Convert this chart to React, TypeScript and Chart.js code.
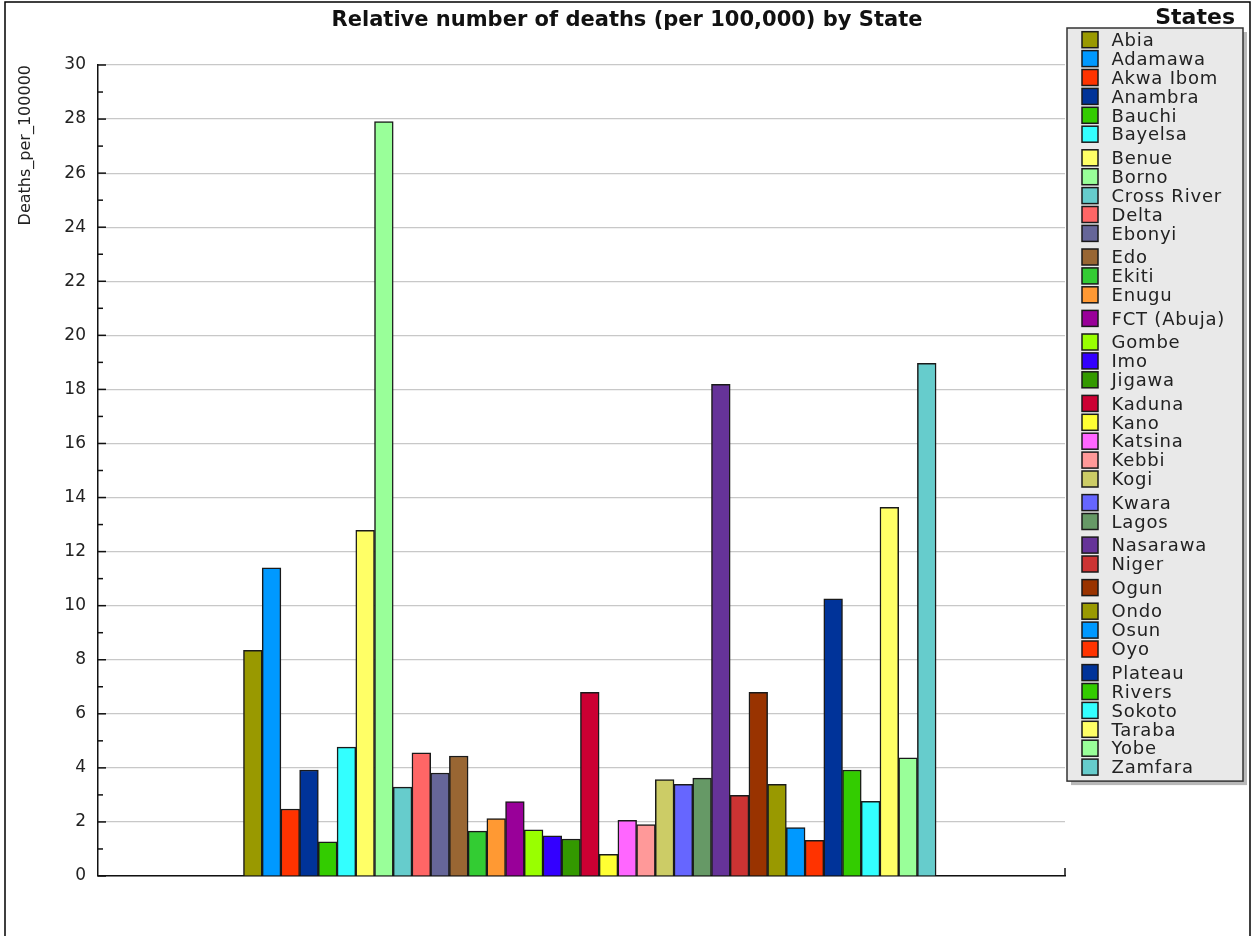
import React, { useEffect, useRef } from 'react';
import { Chart, registerables } from 'chart.js';

Chart.register(...registerables);

const chartTitle = 'Relative number of deaths (per 100,000) by State';
const legendTitle = 'States';
const yAxisTitle = 'Deaths_per_100000';
const yAxisMin = 0;
const yAxisMax = 30;
const yMinorStep = 1;
const yLabelStep = 2;

const states = [
  'Abia', 'Adamawa', 'Akwa Ibom', 'Anambra', 'Bauchi', 'Bayelsa', 'Benue', 'Borno',
  'Cross River', 'Delta', 'Ebonyi', 'Edo', 'Ekiti', 'Enugu', 'FCT (Abuja)', 'Gombe',
  'Imo', 'Jigawa', 'Kaduna', 'Kano', 'Katsina', 'Kebbi', 'Kogi', 'Kwara', 'Lagos',
  'Nasarawa', 'Niger', 'Ogun', 'Ondo', 'Osun', 'Oyo', 'Plateau', 'Rivers', 'Sokoto',
  'Taraba', 'Yobe', 'Zamfara',
];

const deathsPer100k = [
  8.35, 11.40, 2.48, 3.92, 1.26, 4.77, 12.79, 27.91,
  3.29, 4.56, 3.81, 4.44, 1.66, 2.12, 2.75, 1.71,
  1.49, 1.37, 6.79, 0.80, 2.06, 1.90, 3.57, 3.39, 3.62,
  18.19, 2.98, 6.79, 3.39, 1.79, 1.32, 10.25, 3.92, 2.76,
  13.64, 4.37, 18.96,
];

const stateColors = [
  '#999900', '#0099ff', '#ff3300', '#003399', '#33cc00', '#33ffff', '#ffff66', '#99ff99',
  '#66cccc', '#ff6666', '#666699', '#996633', '#33cc33', '#ff9933', '#990099', '#99ff00',
  '#3300ff', '#339900', '#cc0033', '#ffff33', '#ff66ff', '#ff9999', '#cccc66', '#6666ff', '#669966',
  '#663399', '#cc3333', '#993300', '#999900', '#0099ff', '#ff3300', '#003399', '#33cc00', '#33ffff',
  '#ffff66', '#99ff99', '#66cccc',
];

const FONT = '"DejaVu Sans", sans-serif';

const decorPlugin = {
  id: 'decor',
  afterDraw(chart: any) {
    const ctx: CanvasRenderingContext2D = chart.ctx;
    const { left, right, bottom } = chart.chartArea;
    const yScale = chart.scales.y;
    ctx.save();

    // inner tick marks on the y axis
    ctx.strokeStyle = '#111';
    ctx.lineWidth = 1.5;
    yScale.ticks.forEach((t: any) => {
      const py = yScale.getPixelForValue(t.value);
      const len = t.value % yLabelStep === 0 ? 8 : 5;
      ctx.beginPath();
      ctx.moveTo(left, py);
      ctx.lineTo(left + len, py);
      ctx.stroke();
    });
    // end tick on x axis
    ctx.beginPath();
    ctx.moveTo(right, bottom);
    ctx.lineTo(right, bottom - 8);
    ctx.stroke();

    // outer frame
    ctx.strokeStyle = '#000';
    ctx.lineWidth = 1.5;
    ctx.strokeRect(5, 2, chart.width - 8, chart.height + 20);

    // chart title
    ctx.fillStyle = '#111';
    ctx.font = `bold 21px ${FONT}`;
    ctx.textAlign = 'center';
    ctx.textBaseline = 'alphabetic';
    ctx.fillText(chartTitle, chart.width / 2 + 0.5, 26);

    // legend
    const datasets = chart.data.datasets;
    const boxLeft = right + 2;
    const boxWidth = 176;
    const boxTop = 28;
    ctx.font = `18px ${FONT}`;
    (ctx as any).letterSpacing = '0.8px';
    const centers: number[] = [];
    let c = boxTop + 11.7;
    datasets.forEach((ds: any) => {
      centers.push(c);
      const m = ctx.measureText(ds.label);
      c += 18.9 + (m.actualBoundingBoxDescent > 2 ? 4.7 : 0);
    });
    const boxBottom = centers[centers.length - 1] + 14;
    const boxHeight = boxBottom - boxTop;

    ctx.fillStyle = '#b8b8b8';
    ctx.fillRect(boxLeft + 4, boxTop + 4, boxWidth, boxHeight);
    ctx.fillStyle = '#e9e9e9';
    ctx.fillRect(boxLeft, boxTop, boxWidth, boxHeight);
    ctx.strokeStyle = '#333';
    ctx.lineWidth = 1.5;
    ctx.strokeRect(boxLeft, boxTop, boxWidth, boxHeight);

    datasets.forEach((ds: any, i: number) => {
      const cy = centers[i];
      ctx.fillStyle = ds.backgroundColor;
      ctx.fillRect(boxLeft + 15, cy - 8, 16, 16);
      ctx.strokeStyle = '#1a1a1a';
      ctx.lineWidth = 1.5;
      ctx.strokeRect(boxLeft + 15, cy - 8, 16, 16);
      ctx.fillStyle = '#222';
      ctx.textAlign = 'left';
      ctx.fillText(ds.label, boxLeft + 44.5, cy + 6.2);
    });

    (ctx as any).letterSpacing = '0px';
    ctx.font = `bold 22px ${FONT}`;
    ctx.textAlign = 'right';
    ctx.fillStyle = '#111';
    ctx.fillText(legendTitle, boxLeft + boxWidth - 8, 24);

    ctx.restore();
  },
};

export default function App() {
  const canvasRef = useRef<HTMLCanvasElement | null>(null);

  useEffect(() => {
    if (!canvasRef.current) return;
    const datasets = states.map((s, i) => ({
      label: s,
      data: [{ x: 0, y: deathsPer100k[i] }],
      backgroundColor: stateColors[i],
      borderColor: '#1a1a1a',
      borderWidth: 1.5,
      barThickness: 18.72,
    }));

    const chart = new Chart(canvasRef.current, {
      type: 'bar',
      data: { datasets } as any,
      plugins: [decorPlugin],
      options: {
        animation: false,
        responsive: false,
        layout: { padding: { left: 0, top: 65, right: 188, bottom: 60 } },
        plugins: {
          legend: { display: false },
          title: { display: false },
          tooltip: { enabled: false },
        },
        scales: {
          x: {
            type: 'linear',
            min: -0.51,
            max: 0.49,
            grid: { display: false, drawTicks: false },
            ticks: { display: false },
            border: { display: true, color: '#111', width: 1.5 },
            afterFit: (scale: any) => {
              scale.height = 0;
            },
          },
          y: {
            min: yAxisMin,
            max: yAxisMax,
            ticks: {
              stepSize: yMinorStep,
              padding: 12,
              color: '#222',
              font: { family: FONT, size: 17 },
              callback: (v: any) => (Number(v) % yLabelStep === 0 ? String(v) : ''),
            },
            grid: {
              drawTicks: false,
              color: (c: any) =>
                c.tick && c.tick.value % yLabelStep === 0 ? '#c8c8c8' : 'rgba(0,0,0,0)',
              lineWidth: 1.2,
            },
            border: { display: true, color: '#111', width: 1.5 },
            title: {
              display: true,
              text: yAxisTitle,
              align: 'end',
              color: '#222',
              font: { family: FONT, size: 16 },
              padding: { top: 16, bottom: 0 },
            },
            afterFit: (scale: any) => {
              scale.width = 98;
            },
          },
        },
      } as any,
    });
    return () => chart.destroy();
  }, []);

  return (
    <div style={{ position: 'absolute', left: 0, top: 0, width: 1253, height: 936, background: '#fff' }}>
      <canvas ref={canvasRef} width={1253} height={936} style={{ display: 'block' }} />
    </div>
  );
}
